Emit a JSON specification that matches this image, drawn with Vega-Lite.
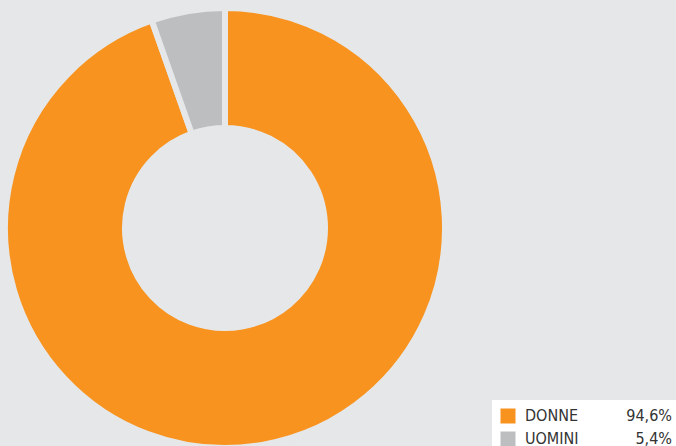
{
  "$schema": "https://vega.github.io/schema/vega-lite/v6.json",
  "width": 450,
  "height": 456,
  "padding": {"left": 0, "top": 0, "right": 226, "bottom": 0},
  "autosize": {"type": "none"},
  "background": "#e6e7e9",
  "config": {"view": {"stroke": null}},
  "data": {"values": [
    {"genere": "DONNE", "pct": 94.6, "label": "94,6%"},
    {"genere": "UOMINI", "pct": 5.4, "label": "5,4%"}
  ]},
  "mark": {"type": "arc", "outerRadius": 220, "innerRadius": 100, "stroke": "#e6e7e9", "strokeWidth": 6},
  "encoding": {
    "theta": {"field": "pct", "type": "quantitative", "stack": true},
    "order": {"field": "pct", "type": "quantitative", "sort": "descending"},
    "color": {
      "field": "genere", "type": "nominal",
      "scale": {"domain": ["DONNE", "UOMINI"], "range": ["#f7931e", "#bcbec0"]},
      "legend": {
        "title": null, "orient": "none", "legendX": 492, "legendY": 400,
        "fillColor": "white", "padding": 8, "symbolType": "square", "symbolSize": 225,
        "symbolStrokeWidth": 0, "labelFont": "DejaVu Sans Condensed",
        "labelFontSize": 16, "labelColor": "#333333", "labelOffset": 9, "rowPadding": 7,
        "labelLimit": 400, "symbolLimit": 0,
        "labelExpr": "datum.label + '\u00a0\u00a0\u00a0\u00a0\u00a0\u00a0\u00a0\u00a0\u00a0\u00a0\u00a0\u00a0\u00a0\u00a0\u00a0\u00a0\u00a0\u00a0\u00a0\u00a0\u00a0\u00a0\u00a0\u00a0\u200b'",
        "encode": {"symbols": {"update": {"fill": {"signal": "datum.value === 'DONNE' ? '#faa95b' : '#bdbec1'"}, "opacity": {"value": 1}}}}
      }
    },
    "opacity": {
      "field": "label", "type": "nominal", "sort": ["94,6%", "5,4%"],
      "scale": {"domain": ["94,6%", "5,4%"], "range": [1, 1]},
      "legend": {
        "title": null, "orient": "none", "legendX": 648, "legendY": 400,
        "padding": 8, "symbolSize": 225, "symbolType": "M0,0", "symbolStrokeWidth": 0,
        "symbolFillColor": "transparent", "symbolStrokeColor": "transparent",
        "labelAlign": "right", "labelOffset": 0,
        "labelFont": "DejaVu Sans Condensed", "labelFontSize": 16, "labelColor": "#333333",
        "rowPadding": 7
      }
    }
  }
}
